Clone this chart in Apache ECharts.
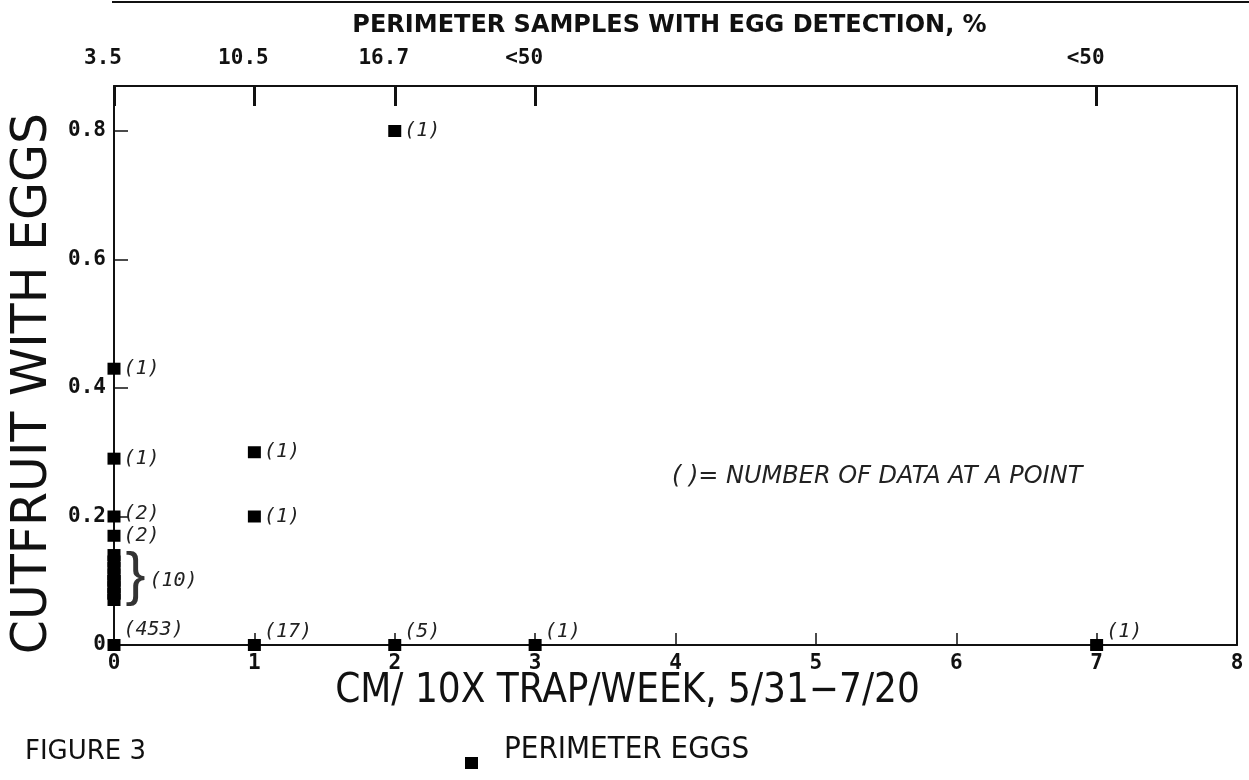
<!DOCTYPE html>
<html>
<head>
<meta charset="utf-8">
<script src="https://cdn.jsdelivr.net/npm/echarts@6/dist/echarts.min.js"></script>
<style>
html,body{margin:0;padding:0;background:#fff;}
#chart{width:1249px;height:780px;}
</style>
</head>
<body>
<div id="chart"></div>
<script>
// ---- data ----
const xTickValues = [0, 1, 2, 3, 4, 5, 6, 7, 8];
const topTickValues = [0, 1, 2, 3, 7];
const topTickLabels = ['3.5', '10.5', '16.7', '<50', '<50'];
const yTickValues = [0, 0.2, 0.4, 0.6, 0.8];

// individual points: x, y, count label
const ptX = [0, 1, 2, 3, 7, 0, 0, 0, 0, 1, 1, 2];
const ptY = [0, 0, 0, 0, 0, 0.43, 0.29, 0.2, 0.17, 0.3, 0.2, 0.8];
const ptCount = ['(453)', '(17)', '(5)', '(1)', '(1)', '(1)', '(1)', '(2)', '(2)', '(1)', '(1)', '(1)'];

// the cluster of 10 points drawn as a solid column at x = 0
const clusterX = 0;
const clusterY = [0.07, 0.08, 0.08, 0.09, 0.10, 0.10, 0.11, 0.12, 0.13, 0.14];
const clusterCount = '(10)';

const seriesName = 'PERIMETER EGGS';

// ---- build ----
const labelOffsets = ptY.map((y, i) => {
  if (y === 0) return [0, ptCount[i] === '(453)' ? -15 : -13];
  if (ptCount[i] === '(2)' && y === 0.2) return [0, -3];
  return [0, 0];
});

const data = [];
ptX.forEach((x, i) => {
  data.push({
    value: [x, ptY[i]],
    name: ptCount[i],
    label: { show: true, offset: labelOffsets[i] }
  });
});
// brace on the first 0.10 point, count on the second
const braceIdx = clusterY.indexOf(0.10);
const countIdx = clusterY.lastIndexOf(0.10);
clusterY.forEach((y, i) => {
  let label = { show: false };
  if (i === braceIdx) {
    label = { show: true, formatter: '}', fontFamily: 'Liberation Sans', fontStyle: 'normal', fontSize: 60, offset: [2, -3], color: '#333' };
  } else if (i === countIdx) {
    label = { show: true, formatter: clusterCount, offset: [26, 0] };
  }
  data.push({ value: [clusterX, y], name: '', label: label });
});

const chart = echarts.init(document.getElementById('chart'), null, { renderer: 'canvas' });

const tickFont = { fontFamily: 'DejaVu Sans Mono', fontWeight: 'bold', fontSize: 21, color: '#111' };
const YMAX = 0.87;

chart.setOption({
  animation: false,
  backgroundColor: '#fff',
  grid: { left: 114, right: 12, top: 86, bottom: 135, containLabel: false, outerBoundsMode: 'none' },
  legend: {
    show: true,
    data: [seriesName],
    left: 460,
    top: 726,
    icon: 'path://M0,0L0.01,0ZM0,26L13,26L13,38L0,38Z',
    itemWidth: 13,
    itemHeight: 38,
    itemStyle: { color: '#000', opacity: 1 },
    textStyle: {
      fontFamily: 'DejaVu Sans Condensed',
      fontSize: 31,
      color: '#111',
      padding: [0, 0, 0, 21]
    }
  },
  xAxis: [
    {
      type: 'value',
      position: 'bottom',
      min: 0, max: 8, interval: 1,
      axisLine: { show: true, onZero: false, lineStyle: { color: '#111', width: 2 } },
      axisTick: { show: true, inside: true, length: 12, lineStyle: { color: '#111', width: 1.5 } },
      axisLabel: Object.assign({ margin: 8, customValues: xTickValues }, tickFont),
      splitLine: { show: false },
      name: 'CM/ 10X TRAP/WEEK, 5/31\u22127/20',
      nameLocation: 'middle',
      nameGap: 27,
      nameMoveOverlap: false,
      nameTextStyle: {
        fontFamily: 'DejaVu Sans Condensed',
        fontSize: 40,
        color: '#111',
        padding: [0, 96, 0, 0],
        verticalAlign: 'top'
      }
    },
    {
      type: 'value',
      position: 'top',
      min: 0, max: 8,
      axisLine: { show: true, onZero: false, lineStyle: { color: '#111', width: 2 } },
      axisTick: { show: true, inside: true, length: 20, customValues: topTickValues, lineStyle: { color: '#111', width: 3 } },
      axisLabel: Object.assign({
        margin: 17,
        customValues: topTickValues,
        padding: [0, 22, 0, 0],
        formatter: function (v) {
          const i = topTickValues.indexOf(v);
          return i >= 0 ? topTickLabels[i] : '';
        }
      }, tickFont),
      splitLine: { show: false },
      name: 'PERIMETER SAMPLES WITH EGG DETECTION, %',
      nameLocation: 'middle',
      nameGap: 48,
      nameMoveOverlap: false,
      nameTextStyle: {
        fontFamily: 'DejaVu Sans',
        fontWeight: 'bold',
        fontSize: 24,
        color: '#111',
        padding: [0, 12, 0, 0]
      }
    }
  ],
  yAxis: [
    {
      type: 'value',
      position: 'left',
      min: 0, max: YMAX,
      axisLine: { show: true, onZero: false, lineStyle: { color: '#111', width: 2 } },
      axisTick: { show: true, inside: true, length: 14, customValues: yTickValues, lineStyle: { color: '#111', width: 1.5 } },
      axisLabel: Object.assign({
        margin: 8,
        customValues: yTickValues,
        formatter: function (v) { return v === 0 ? '0' : v.toFixed(1); }
      }, tickFont),
      splitLine: { show: false },
      name: 'CUTFRUIT WITH EGGS',
      nameLocation: 'middle',
      nameGap: 56,
      nameMoveOverlap: false,
      nameTextStyle: {
        fontFamily: 'DejaVu Sans',
        fontSize: 49,
        color: '#111',
        padding: [0, 36, 0, 0]
      }
    },
    {
      type: 'value',
      position: 'right',
      min: 0, max: YMAX,
      axisLine: { show: true, onZero: false, lineStyle: { color: '#111', width: 2 } },
      axisTick: { show: false },
      axisLabel: { show: false },
      splitLine: { show: false }
    }
  ],
  series: [
    {
      name: seriesName,
      type: 'scatter',
      xAxisIndex: 0,
      yAxisIndex: 0,
      symbol: 'rect',
      symbolSize: [13, 12],
      itemStyle: { color: '#000', opacity: 1 },
      label: {
        show: true,
        position: 'right',
        distance: 3,
        formatter: '{b}',
        fontFamily: 'DejaVu Sans Mono',
        fontStyle: 'italic',
        fontSize: 20,
        color: '#222'
      },
      emphasis: { disabled: true },
      data: data,
      z: 5
    }
  ],
  graphic: [
    { type: 'line', shape: { x1: 112, y1: 2, x2: 1249, y2: 2 }, style: { stroke: '#111', lineWidth: 2 } },
    {
      type: 'text', left: 672, top: 465,
      style: { text: '( )= NUMBER OF DATA AT A POINT', font: 'italic 24px "DejaVu Sans"', fill: '#222' }
    },
    {
      type: 'text', left: 25, top: 739,
      style: { text: 'FIGURE 3', font: '26px "DejaVu Sans"', fill: '#111' }
    }
  ]
});
</script>
</body>
</html>
